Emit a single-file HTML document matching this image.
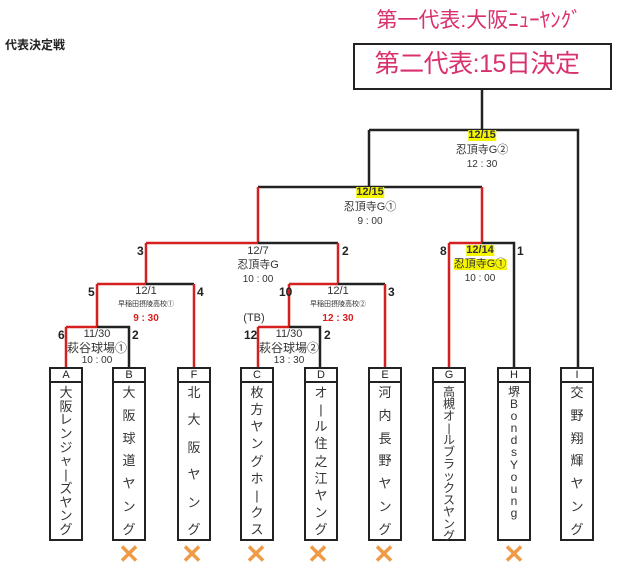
<!DOCTYPE html>
<html><head><meta charset="utf-8"><style>
body{margin:0;width:640px;height:573px;background:#fff;position:relative;overflow:hidden;font-family:"Liberation Sans","Noto Sans CJK JP",sans-serif;color:#333}
.t{position:absolute;white-space:nowrap;transform:translateX(-50%);line-height:1}
.n{position:absolute;font-weight:bold;font-size:12px;line-height:1;color:#222}
.y{background:#f5f500}
.box{position:absolute;width:30px;border:2px solid #222;top:367px}
.hd{height:12px;border-bottom:2px solid #222;font-size:11px;text-align:center;line-height:12px;color:#222}
.bd{height:156px;display:flex;flex-direction:column;justify-content:space-between;align-items:center;font-size:13px;line-height:1;padding:3px 0;box-sizing:border-box;color:#333}
.x{position:absolute;top:541px;font-size:26px;color:#f09a45;transform:translateX(-50%);line-height:1;font-weight:bold}
</style></head><body>
<div style="position:absolute;left:5px;top:36px;font-size:12px;font-weight:bold;color:#222">代表決定戦</div>
<div class="t" style="left:479px;top:10px;font-size:21px;color:#d9306e">第一代表:大阪ﾆｭｰﾔﾝｸﾞ</div>
<div style="position:absolute;left:353px;top:43px;width:255px;height:43px;border:2px solid #222"></div>
<div class="t" style="left:477px;top:52px;font-size:25px;color:#d9306e;letter-spacing:-0.5px">第二代表:15日決定</div>
<svg width="640" height="573" style="position:absolute;left:0;top:0">
<g fill="none" stroke-width="2.5">
<path d="M482 88V130M369 130H578V367" stroke="#222"/>
<path d="M369 130V187" stroke="#222"/>
<path d="M258 187H482" stroke="#222"/>
<path d="M258 187V243M482 187V243" stroke="#d62020"/>
<path d="M146 243H258" stroke="#d62020"/>
<path d="M258 243H338" stroke="#222"/>
<path d="M338 243V284" stroke="#d62020"/>
<path d="M449 243H482" stroke="#d62020"/>
<path d="M482 243H514V367" stroke="#222"/>
<path d="M449 243V367" stroke="#d62020"/>
<path d="M146 243V284M97 284H146M97 284V327M66 327H97M66 327V367" stroke="#d62020"/>
<path d="M97 327H129V367M146 284H194" stroke="#222"/>
<path d="M194 284V367" stroke="#d62020"/>
<path d="M289 284H338M289 284V327M258 327H289M258 327V367" stroke="#d62020"/>
<path d="M289 327H320V367M338 284H385" stroke="#222"/>
<path d="M385 284V367" stroke="#d62020"/>
</g></svg>
<div class="t y" style="left:482px;top:130px;font-size:11px;font-weight:bold">12/15</div>
<div class="t" style="left:482px;top:145px;font-size:11px">忍頂寺G②</div>
<div class="t" style="left:482px;top:160px;font-size:10px">12 : 30</div>
<div class="t y" style="left:370px;top:187px;font-size:11px;font-weight:bold">12/15</div>
<div class="t" style="left:370px;top:202px;font-size:11px">忍頂寺G①</div>
<div class="t" style="left:370px;top:217px;font-size:10px">9 : 00</div>
<div class="n" style="left:137px;top:245px">3</div><div class="n" style="left:342px;top:245px">2</div>
<div class="t" style="left:258px;top:246px;font-size:11px">12/7</div>
<div class="t" style="left:258px;top:260px;font-size:11px">忍頂寺G</div>
<div class="t" style="left:258px;top:275px;font-size:10px">10 : 00</div>
<div class="n" style="left:440px;top:245px">8</div><div class="n" style="left:517px;top:245px">1</div>
<div class="t y" style="left:480px;top:245px;font-size:11px;font-weight:bold">12/14</div>
<div class="t y" style="left:480px;top:259px;font-size:11px">忍頂寺G①</div>
<div class="t" style="left:480px;top:274px;font-size:10px">10 : 00</div>
<div class="n" style="left:88px;top:286px">5</div><div class="n" style="left:197px;top:286px">4</div>
<div class="t" style="left:146px;top:286px;font-size:11px">12/1</div>
<div class="t" style="left:146px;top:301px;font-size:7px">早稲田摂陵高校①</div>
<div class="t" style="left:146px;top:314px;font-size:10px;color:#d62020;font-weight:bold">9 : 30</div>
<div class="n" style="left:279px;top:286px">10</div><div class="n" style="left:388px;top:286px">3</div>
<div class="t" style="left:338px;top:286px;font-size:11px">12/1</div>
<div class="t" style="left:338px;top:301px;font-size:7px">早稲田摂陵高校②</div>
<div class="t" style="left:338px;top:314px;font-size:10px;color:#d62020;font-weight:bold">12 : 30</div>
<div class="t" style="left:254px;top:313px;font-size:11px">(TB)</div>
<div class="n" style="left:58px;top:329px">6</div><div class="n" style="left:132px;top:329px">2</div>
<div class="t" style="left:97px;top:329px;font-size:11px">11/30</div>
<div class="t" style="left:97px;top:342px;font-size:12px">萩谷球場①</div>
<div class="t" style="left:97px;top:356px;font-size:10px">10 : 00</div>
<div class="n" style="left:244px;top:329px">12</div><div class="n" style="left:324px;top:329px">2</div>
<div class="t" style="left:289px;top:329px;font-size:11px">11/30</div>
<div class="t" style="left:289px;top:342px;font-size:12px">萩谷球場②</div>
<div class="t" style="left:289px;top:356px;font-size:10px">13 : 30</div>

<div class="box" style="left:49px"><div class="hd">A</div><div class="bd"><span>大</span><span>阪</span><span>レ</span><span>ン</span><span>ジ</span><span>ャ</span><span>|</span><span>ズ</span><span>ヤ</span><span>ン</span><span>グ</span></div></div>
<div class="box" style="left:112px"><div class="hd">B</div><div class="bd"><span>大</span><span>阪</span><span>球</span><span>道</span><span>ヤ</span><span>ン</span><span>グ</span></div></div>
<div class="box" style="left:177px"><div class="hd">F</div><div class="bd"><span>北</span><span>大</span><span>阪</span><span>ヤ</span><span>ン</span><span>グ</span></div></div>
<div class="box" style="left:240px"><div class="hd">C</div><div class="bd"><span>枚</span><span>方</span><span>ヤ</span><span>ン</span><span>グ</span><span>ホ</span><span>|</span><span>ク</span><span>ス</span></div></div>
<div class="box" style="left:304px"><div class="hd">D</div><div class="bd"><span>オ</span><span>|</span><span>ル</span><span>住</span><span>之</span><span>江</span><span>ヤ</span><span>ン</span><span>グ</span></div></div>
<div class="box" style="left:368px"><div class="hd">E</div><div class="bd"><span>河</span><span>内</span><span>長</span><span>野</span><span>ヤ</span><span>ン</span><span>グ</span></div></div>
<div class="box" style="left:432px"><div class="hd">G</div><div class="bd" style="font-size:12px"><span>高</span><span>槻</span><span>オ</span><span>|</span><span>ル</span><span>ブ</span><span>ラ</span><span>ッ</span><span>ク</span><span>ス</span><span>ヤ</span><span>ン</span><span>グ</span></div></div>
<div class="box" style="left:497px"><div class="hd">H</div><div class="bd" style="font-size:12px;padding-bottom:20px"><span>堺</span><span>B</span><span>o</span><span>n</span><span>d</span><span>s</span><span>Y</span><span>o</span><span>u</span><span>n</span><span>g</span></div></div>
<div class="box" style="left:560px"><div class="hd">I</div><div class="bd"><span>交</span><span>野</span><span>翔</span><span>輝</span><span>ヤ</span><span>ン</span><span>グ</span></div></div>

<div class="x" style="left:129px">✕</div>
<div class="x" style="left:192px">✕</div>
<div class="x" style="left:256px">✕</div>
<div class="x" style="left:318px">✕</div>
<div class="x" style="left:384px">✕</div>
<div class="x" style="left:514px">✕</div>
</body></html>
